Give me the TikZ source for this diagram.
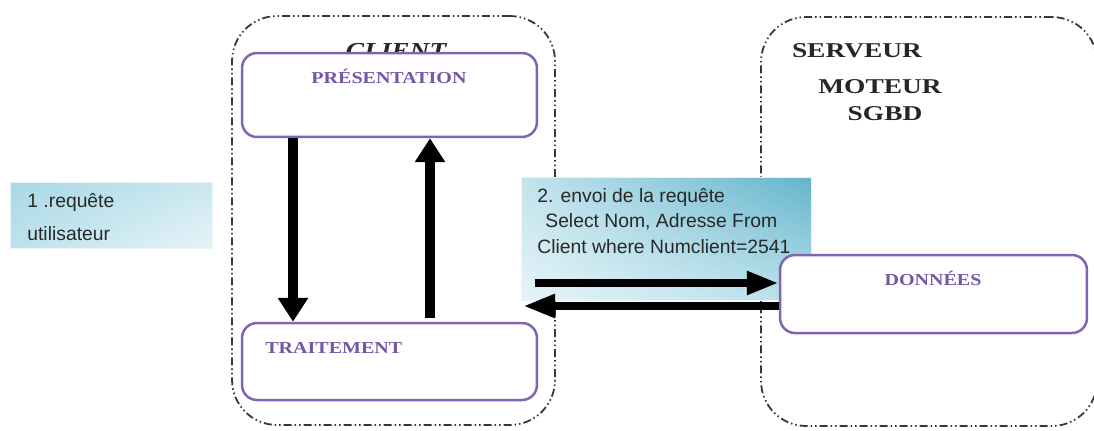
\documentclass[tikz,border=0pt]{standalone}
\usepackage{fontspec}
\setmainfont{Liberation Serif}
\newfontfamily\boxsans{Liberation Sans}
\newfontfamily\wideserif[FakeStretch=1.2]{Liberation Serif}
\newfontfamily\widerserif[FakeStretch=1.3]{Liberation Serif}
\usetikzlibrary{arrows.meta,shadings}

\definecolor{boxpurple}{RGB}{128,100,178}
\definecolor{labelpurple}{RGB}{116,86,166}
\definecolor{framegray}{RGB}{55,55,55}
\definecolor{tealdark}{RGB}{100,180,204}
\definecolor{tealmid}{RGB}{168,216,229}
\definecolor{teallight}{RGB}{230,244,248}
\definecolor{textdark}{RGB}{40,40,40}

\tikzset{
  zone/.style={draw=framegray, line width=0.036cm, rounded corners=0.9cm,
    dash pattern=on 0.16cm off 0.06cm on 0.03cm off 0.06cm on 0.03cm off 0.06cm,
    inner sep=0pt},
  layer/.style={draw=boxpurple, line width=0.05cm, fill=white,
    rounded corners=0.3cm, inner sep=0pt},
  layername/.style={text=labelpurple, font=\wideserif\bfseries\fontsize{9.5}{11}\selectfont,
    inner sep=0pt},
  tiername/.style={text=black!85, font=\widerserif\bfseries\fontsize{12}{14}\selectfont,
    inner sep=0pt},
  note/.style={draw=white!85!tealdark, line width=0.02cm, inner sep=0pt},
  notetext/.style={text=textdark, font=\boxsans\fontsize{11}{13}\selectfont, inner sep=0pt},
  vflow/.style={line width=0.2cm, -{Triangle[length=0.48cm, width=0.58cm]}},
  hflow/.style={line width=0.16cm, -{Triangle[length=0.64cm, width=0.44cm]}},
}

\begin{document}
\begin{tikzpicture}[x=0.02cm, y=-0.02cm]
  \useasboundingbox (0,0) rectangle (1094,430);

  % client and server zones
  \node[zone, minimum width=6.46cm, minimum height=8.18cm] (clientzone) at (393.5,220.5) {};
  \node[zone, minimum width=6.72cm, minimum height=8.18cm] (serverzone) at (929,221.5) {};

  % user request note
  \node[note, shade, upper left=tealmid, upper right=white!40!tealmid,
        lower left=white!25!tealmid, lower right=teallight,
        minimum width=4.04cm, minimum height=1.32cm, anchor=north west] (usernote) at (10,182) {};
  \node[notetext, anchor=base west] (user1) at (27,207) {1 .requête};
  \node[notetext, anchor=base west] (user2) at (27,240) {utilisateur};

  % query note
  \node[note, shade, upper left=white!30!tealmid, upper right=tealdark,
        lower left=teallight, lower right=white!20!tealmid,
        minimum width=5.8cm, minimum height=2.46cm, anchor=north west] (querynote) at (521,177) {};
  \node[notetext, anchor=base west] (query1) at (537,202) {2. envoi de la requête};
  \node[notetext, anchor=base west] (query2) at (545,227) {Select Nom, Adresse From};
  \node[notetext, anchor=base west] (query3) at (537,253) {Client where Numclient=2541};

  % zone titles
  \node[font=\wideserif\bfseries\itshape\fontsize{13}{15}\selectfont, text=black!85,
        inner sep=0pt, anchor=base] (clienttitle) at (396,58) {CLIENT};
  \node[tiername, anchor=base] (serveur) at (857,57) {SERVEUR};
  \node[tiername, anchor=base] (moteur) at (880,93) {MOTEUR};
  \node[tiername, anchor=base] (sgbd) at (885,120) {SGBD};

  % layers
  \node[layer, minimum width=5.9cm, minimum height=1.68cm] (pres) at (389.5,95) {};
  \node[layername, anchor=base] (presname) at (389,83) {PRÉSENTATION};
  \node[layer, minimum width=5.9cm, minimum height=1.54cm] (trait) at (389.5,361.5) {};
  \node[layername, anchor=base west] (traitname) at (265,353) {TRAITEMENT};
  \node[layer, minimum width=6.14cm, minimum height=1.56cm] (don) at (933.5,294) {};
  \node[layername, anchor=base] (donname) at (933,285) {DONNÉES};

  % flows between layers
  \coordinate (downx) at (293,0);
  \coordinate (upx) at (430,0);
  \draw[vflow] (pres.south -| downx) -- (trait.north -| downx);
  \draw[vflow] ([yshift=0.08cm]trait.north -| upx) -- (pres.south -| upx);

  \coordinate (sendstart) at (535,283);
  \coordinate (replyend) at (523,306);
  \draw[hflow] (sendstart) -- (sendstart -| don.west);
  \draw[hflow] (replyend -| don.west) -- (replyend);
\end{tikzpicture}
\end{document}
